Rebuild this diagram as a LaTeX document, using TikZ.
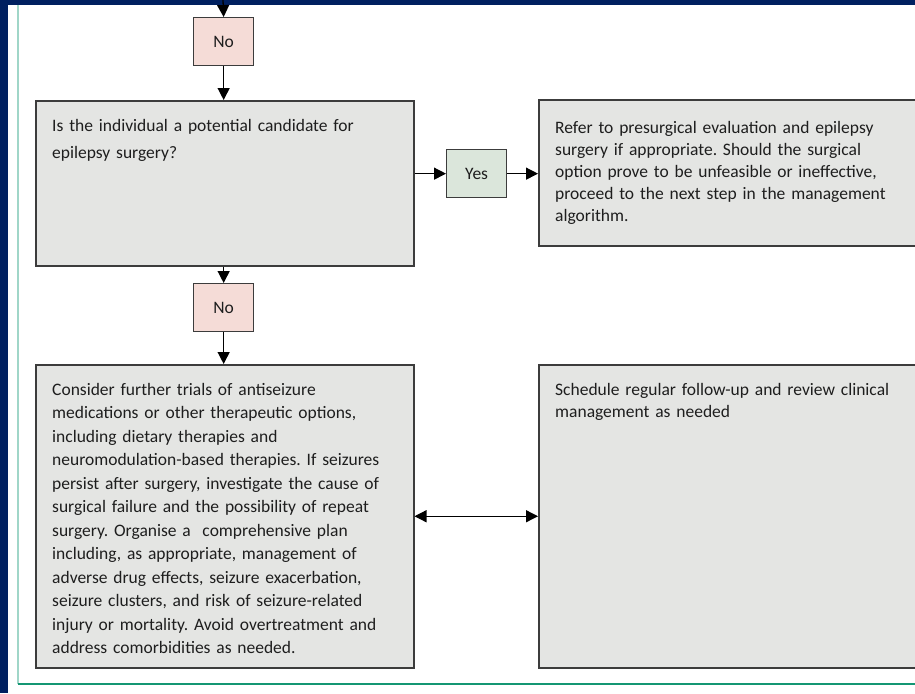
\documentclass[tikz,border=0pt]{standalone}
\usepackage{fontspec}
\setmainfont{Carlito}
\usetikzlibrary{arrows.meta}
\definecolor{navy}{RGB}{0,32,96}
\definecolor{tealL}{RGB}{160,214,200}
\definecolor{tealD}{RGB}{20,150,115}
\definecolor{boxgrey}{RGB}{228,229,227}
\definecolor{nofill}{RGB}{245,220,215}
\definecolor{yesfill}{RGB}{219,230,219}
\definecolor{edgegrey}{RGB}{60,60,60}
\definecolor{txt}{RGB}{30,30,30}
\begin{document}
\frenchspacing
\begin{tikzpicture}[x=1pt,y=-1pt,
  bigbox/.style={draw=edgegrey,line width=1.5pt,fill=boxgrey,anchor=north west,inner sep=0pt},
  tagbox/.style={draw=edgegrey,line width=1.3pt,anchor=north west,inner sep=0pt,
     minimum width=60pt,minimum height=48pt,font=\fontsize{17.5}{20}\selectfont,text=txt},
  nobox/.style={tagbox,fill=nofill},
  yesbox/.style={tagbox,fill=yesfill},
  bodytext/.style={anchor=base west,inner sep=0pt,text width=370pt,align=left,text=txt},
  arr/.style={line width=1.3pt,draw=black,-{Triangle[length=12pt,width=12pt]}},
  darr/.style={line width=1.3pt,draw=black,{Triangle[length=12pt,width=12pt]}-{Triangle[length=12pt,width=12pt]}}
]
\useasboundingbox (0,0) rectangle (915,693);
\fill[navy] (0,0) rectangle (915,693);
\fill[white] (8,5) rectangle (915,693);
\draw[tealL,line width=1.2pt] (18,5) -- (18,684);
\draw[tealD,line width=1.5pt] (18,684) -- (915,684);

% boxes
\node[nobox] (no1) at (193,17) {No};
\node[bigbox,minimum width=378pt,minimum height=165pt] (q) at (35,100) {};
\node[yesbox] (yes) at (446,149) {Yes};
\node[bigbox,minimum width=377pt,minimum height=146pt] (r1) at (538,99) {};
\node[nobox] (no2) at (193,283) {No};
\node[bigbox,minimum width=378pt,minimum height=303pt] (l2) at (35,364) {};
\node[bigbox,minimum width=377pt,minimum height=303pt] (r2) at (538,364) {};

% texts
\node[bodytext,font=\fontsize{17.5}{27}\selectfont] (qt) at ([shift={(17,31)}]q.north west)
 {Is the individual a potential candidate for\\epilepsy surgery?};
\node[bodytext,font=\fontsize{17.5}{22}\selectfont] (r1t) at ([shift={(17,34)}]r1.north west)
 {Refer to presurgical evaluation and epilepsy\\surgery if appropriate. Should the surgical\\option prove to be unfeasible or ineffective,\\proceed to the next step in the management\\algorithm.};
\node[bodytext,font=\fontsize{17.5}{23.5}\selectfont] (l2t) at ([shift={(17,31)}]l2.north west)
 {Consider further trials of antiseizure\\
  medications or other therapeutic options,\\
  including dietary therapies and\\
  neuromodulation-based therapies. If seizures\\
  persist after surgery, investigate the cause of\\
  surgical failure and the possibility of repeat\\
  surgery. Organise a\ \ comprehensive plan\\
  including, as appropriate, management of\\
  adverse drug effects, seizure exacerbation,\\
  seizure clusters, and risk of seizure-related\\
  injury or mortality. Avoid overtreatment and\\
  address comorbidities as needed.};
\node[bodytext,font=\fontsize{17.5}{22}\selectfont] (r2t) at ([shift={(17,31)}]r2.north west)
 {Schedule regular follow-up and review clinical\\management as needed};

% connectors
\coordinate (top) at (223,0);
\draw[arr] (top) -- (no1.north);
\draw[arr] (no1.south) -- (no1.south |- q.north);
\draw[arr] (q.east |- yes.west) -- (yes.west);
\draw[arr] (yes.east) -- (yes.east -| r1.west);
\draw[arr] (no2.north |- q.south) -- (no2.north);
\draw[arr] (no2.south) -- (no2.south |- l2.north);
\draw[darr] (l2.east) -- (r2.west);
\end{tikzpicture}
\end{document}
